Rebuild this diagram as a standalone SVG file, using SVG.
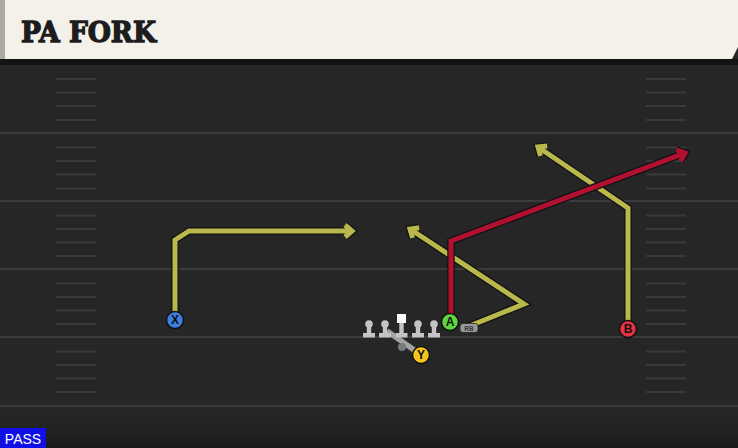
<svg xmlns="http://www.w3.org/2000/svg" width="738" height="448" viewBox="0 0 738 448">
<defs>
<style>
.yl{stroke:#3b3b3b;stroke-width:2}
.hm{stroke:#3a3a3a;stroke-width:2}
.out{fill:none;stroke:#121212;stroke-width:7.5;stroke-linejoin:miter;stroke-linecap:butt}
.ry{fill:none;stroke:#b9b84c;stroke-width:5;stroke-linejoin:miter}
.rr{fill:none;stroke:#b1102f;stroke-width:5;stroke-linejoin:miter}
.pl{stroke:#111;stroke-width:1.5}
.lt{font-family:"Liberation Sans",Arial,sans-serif;font-weight:bold;font-size:12px;fill:#111;text-anchor:middle}
.ln{fill:#c4c4c4}
</style>
<marker id="mo" markerUnits="userSpaceOnUse" markerWidth="24" markerHeight="24" refX="0" refY="0" viewBox="-12 -12 24 24" orient="auto" overflow="visible"><path d="M-7,-6 L0,0 L-7,6" fill="none" stroke="#121212" stroke-width="7.5" stroke-linejoin="miter"/></marker>
<marker id="my" markerUnits="userSpaceOnUse" markerWidth="24" markerHeight="24" refX="0" refY="0" viewBox="-12 -12 24 24" orient="auto" overflow="visible"><path d="M-7,-6 L0,0 L-7,6" fill="none" stroke="#b9b84c" stroke-width="5" stroke-linejoin="miter"/></marker>
<marker id="mr" markerUnits="userSpaceOnUse" markerWidth="24" markerHeight="24" refX="0" refY="0" viewBox="-12 -12 24 24" orient="auto" overflow="visible"><path d="M-7,-6 L0,0 L-7,6" fill="none" stroke="#b1102f" stroke-width="5" stroke-linejoin="miter"/></marker>
<linearGradient id="bot" x1="0" y1="0" x2="0" y2="1"><stop offset="0" stop-color="#252525" stop-opacity="0"/><stop offset="1" stop-color="#1a1a1a"/></linearGradient>
</defs>
<g id="field">
<rect x="0" y="0" width="738" height="448" fill="#262626"/>
<rect x="0" y="406" width="738" height="42" fill="url(#bot)"/>
<rect x="0" y="59" width="738" height="6" fill="#141414"/>
<line class="yl" x1="0" y1="133" x2="738" y2="133"/>
<line class="yl" x1="0" y1="201" x2="738" y2="201"/>
<line class="yl" x1="0" y1="269" x2="738" y2="269"/>
<line class="yl" x1="0" y1="337" x2="738" y2="337"/>
<line class="yl" x1="0" y1="406" x2="738" y2="406"/>
<g id="hashes">
<path class="hm" d="M56,79H96M56,92.5H96M56,106H96M56,120H96M56,147.5H96M56,161H96M56,174.5H96M56,188.5H96M56,215.5H96M56,229H96M56,242.5H96M56,256H96M56,283.5H96M56,297H96M56,310.5H96M56,324H96M56,351.5H96M56,365H96M56,378.5H96M56,392H96"/>
<path class="hm" d="M646,79H686M646,92.5H686M646,106H686M646,120H686M646,147.5H686M646,161H686M646,174.5H686M646,188.5H686M646,215.5H686M646,229H686M646,242.5H686M646,256H686M646,283.5H686M646,297H686M646,310.5H686M646,324H686M646,351.5H686M646,365H686M646,378.5H686M646,392H686"/>
</g>
</g>
<g id="header">
<polygon points="0,0 738,0 738,47 732,59 0,59" fill="#f4f1ea"/>
<rect x="0" y="0" width="5" height="59" fill="#a9aaa6"/>
<text x="21" y="42" font-family="'DejaVu Serif','Liberation Serif',serif" font-weight="bold" font-size="27" fill="#1c1c1c" stroke="#1c1c1c" stroke-width="1.3" textLength="135" lengthAdjust="spacingAndGlyphs">PA FORK</text>
</g>
<g id="connectors">
<path class="out" d="M175,320V240L189,231H352" marker-end="url(#mo)"/>
<path class="ry" d="M175,320V240L189,231H352" marker-end="url(#my)"/>
<path class="out" d="M467,327L524,304L410,229" marker-end="url(#mo)"/>
<path class="ry" d="M467,327L524,304L410,229" marker-end="url(#my)"/>
<path class="out" d="M628,329V208L538,147" marker-end="url(#mo)"/>
<path class="ry" d="M628,329V208L538,147" marker-end="url(#my)"/>
<path class="out" d="M451,322V241L459,238L685,153" marker-end="url(#mo)"/>
<path class="rr" d="M451,322V241L459,238L685,153" marker-end="url(#mr)"/>
</g>
<g id="line">
<line x1="387" y1="331" x2="417" y2="352" stroke="#a3a3a3" stroke-width="5.5"/>
<circle cx="402" cy="347" r="4" fill="#7a7a7a"/>
<g id="lt1"><circle class="ln" cx="369" cy="324" r="3.8"/><rect class="ln" x="366.8" y="324" width="4.4" height="11"/><rect class="ln" x="363" y="333" width="12" height="4.5"/></g>
<g id="lt2"><circle class="ln" cx="385" cy="324" r="3.8"/><rect class="ln" x="382.8" y="324" width="4.4" height="11"/><rect class="ln" x="379" y="333" width="12" height="4.5"/></g>
<g id="center"><rect x="397" y="314" width="9" height="9" fill="#fafafa"/><rect class="ln" x="399.3" y="323" width="4.4" height="12"/><rect class="ln" x="395.5" y="333" width="12" height="4.5"/></g>
<g id="rt1"><circle class="ln" cx="418" cy="324" r="3.8"/><rect class="ln" x="415.8" y="324" width="4.4" height="11"/><rect class="ln" x="412" y="333" width="12" height="4.5"/></g>
<g id="rt2"><circle class="ln" cx="434" cy="324" r="3.8"/><rect class="ln" x="431.8" y="324" width="4.4" height="11"/><rect class="ln" x="428" y="333" width="12" height="4.5"/></g>
</g>
<g id="rb"><rect x="460" y="323.5" width="18" height="9" rx="3" fill="#9b9b9b" stroke="#222" stroke-width="0.8"/><text x="469" y="331" font-family="'Liberation Sans',Arial,sans-serif" font-weight="bold" font-size="6.5" fill="#333" text-anchor="middle">RB</text></g>
<g id="x"><circle class="pl" cx="175" cy="320" r="8.5" fill="#3e7fe0"/><text class="lt" x="175" y="324.3">X</text></g>
<g id="a"><circle class="pl" cx="450" cy="322" r="8.5" fill="#5fd63e"/><text class="lt" x="450" y="326.3">A</text></g>
<g id="b"><circle class="pl" cx="628" cy="329" r="8.5" fill="#e8323f"/><text class="lt" x="628" y="333.3">B</text></g>
<g id="y"><circle class="pl" cx="421" cy="355" r="8.5" fill="#f1c51b"/><text class="lt" x="421" y="359.3">Y</text></g>
<g id="pass"><rect x="0" y="428" width="46" height="20" fill="#1010e6"/><text x="23" y="443.5" font-family="'Liberation Sans',Arial,sans-serif" font-size="14" fill="#ffffff" text-anchor="middle">PASS</text></g>
</svg>
